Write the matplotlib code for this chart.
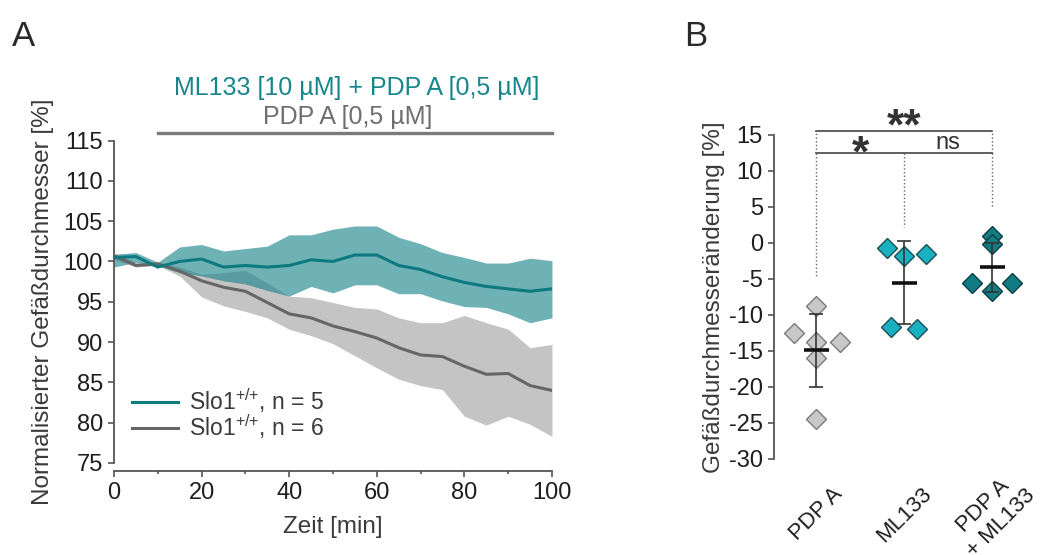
import numpy as np
import matplotlib
matplotlib.use("Agg")
import matplotlib.pyplot as plt

plt.rcParams["font.family"] = ["Liberation Sans", "DejaVu Sans"]
plt.rcParams["mathtext.fontset"] = "custom"
plt.rcParams["mathtext.rm"] = "Liberation Sans"
plt.rcParams["mathtext.it"] = "Liberation Sans"
plt.rcParams["axes.unicode_minus"] = False

# ---- Panel A data (time course, mean and band) ----
zeit = [0, 5, 10, 15, 20, 25, 30, 35, 40, 45, 50, 55, 60, 65, 70, 75, 80, 85, 90, 95, 100]

ml_mean = [100.5, 100.6, 99.3, 100.0, 100.3, 99.3, 99.5, 99.3, 99.5, 100.2, 100.0,
           100.8, 100.8, 99.5, 99.0, 98.1, 97.4, 96.9, 96.6, 96.3, 96.6]
ml_upper = [100.9, 101.1, 99.9, 101.8, 102.1, 101.3, 101.6, 101.9, 103.3, 103.3, 104.0,
            104.4, 104.4, 103.0, 102.2, 101.1, 100.5, 99.8, 99.8, 100.4, 100.1]
ml_lower = [99.3, 99.9, 99.5, 98.6, 98.2, 97.6, 97.2, 96.4, 95.7, 96.9, 96.1,
            97.1, 97.1, 96.0, 96.0, 95.1, 94.4, 94.3, 93.5, 92.4, 93.0]

pdp_mean = [100.7, 99.5, 99.7, 98.8, 97.6, 96.8, 96.3, 94.9, 93.5, 93.0, 92.0,
            91.3, 90.5, 89.3, 88.4, 88.2, 87.0, 86.0, 86.1, 84.6, 84.0]
pdp_upper = [101.0, 99.9, 99.9, 99.3, 98.4, 98.6, 98.9, 97.3, 95.7, 95.5, 94.9,
             94.3, 94.1, 93.0, 92.4, 92.4, 93.3, 92.4, 91.6, 89.3, 89.7]
pdp_lower = [100.3, 99.3, 99.5, 98.2, 95.6, 94.5, 93.8, 93.0, 91.6, 90.8, 89.8,
             88.3, 86.8, 85.4, 84.6, 84.1, 80.8, 79.7, 80.8, 79.8, 78.3]

# ---- Panel B data (single vessels, mean, SD) ----
gruppen = ["PDP A", "ML133", "PDP A\n+ ML133"]
werte_pdp = [-8.8, -12.5, -13.7, -13.7, -16.0, -24.4]
werte_ml = [-0.65, -1.76, -1.57, -11.7, -12.0]
werte_kombi = [1.0, -0.1, -5.5, -5.6, -6.7]
mittel = [-14.9, -5.5, -3.4]
sd = [5.05, 5.8, 3.4]

# horizontal scatter of the diamonds (layout only)
versatz_pdp = [0, -0.25, 0, 0.27, 0, 0]
versatz_ml = [-0.2, 0, 0.25, -0.15, 0.15]
versatz_kombi = [0, 0, -0.23, 0.23, 0]

teal = "#0d7a80"
teal_fill = "#17838a"
grau_line = "#666666"
grau_fill = "#c4c4c4"
achse = "#555555"
tick_col = "#1e1e1e"
label_col = "#3a3a3a"

fig = plt.figure(figsize=(10.45, 5.55), dpi=100)

# ================= Panel A =================
ax = fig.add_axes([0.1091, 0.1658, 0.4191, 0.581])
ax.fill_between(zeit, pdp_lower, pdp_upper, color=grau_fill, lw=0, zorder=1)
ax.fill_between(zeit, ml_lower, ml_upper, color=teal_fill, alpha=0.62, lw=0, zorder=2)
ax.plot(zeit, pdp_mean, color=grau_line, lw=2.2, zorder=3,
        label=r"Slo1$^{\text{+/+}}$, n = 6")
ax.plot(zeit, ml_mean, color=teal, lw=2.2, zorder=4,
        label=r"Slo1$^{\text{+/+}}$, n = 5")

ax.set_xlim(0, 100)
ax.set_ylim(75, 115)
ax.set_xticks(range(0, 101, 20))
ax.set_xticks(range(10, 100, 20), minor=True)
ax.set_yticks(range(75, 116, 5))
for s in ["top", "right"]:
    ax.spines[s].set_visible(False)
for s in ["left", "bottom"]:
    ax.spines[s].set_color(achse)
    ax.spines[s].set_linewidth(1.3)
ax.spines["bottom"].set_position(("outward", 6))
ax.tick_params(axis="both", colors=achse, labelcolor=tick_col, labelsize=17,
               width=1.2, length=4.5)
ax.tick_params(axis="x", which="minor", colors=achse, width=1.2, length=2.5)
ax.set_xlabel("Zeit [min]", fontsize=17.5, color=label_col, labelpad=8)
ax.set_ylabel("Normalisierter Gefäßdurchmesser [%]", fontsize=17.5,
              color=label_col, labelpad=7)

h, l = ax.get_legend_handles_labels()
ax.legend(h[::-1], l[::-1], loc="lower left", bbox_to_anchor=(0.02, 0.04),
          frameon=False, fontsize=16.5, handlelength=2.0, handletextpad=0.5,
          labelspacing=-0.12, borderaxespad=0.0, labelcolor=label_col)

# treatment bar above panel A
ax.plot([10, 100], [115.9, 115.9], color="#7a7a7a", lw=2.4, clip_on=False)
ax.text(53.4, 117.9, "PDP A [0,5 µM]", color="#6e6e6e", fontsize=18,
        ha="center", va="center")
ax.text(55.5, 121.5, "ML133 [10 µM] + PDP A [0,5 µM]", color="#15868c",
        fontsize=18, ha="center", va="center")

fig.text(0.011, 0.935, "A", fontsize=25, color="#2a2a2a", ha="left", va="center")
fig.text(0.655, 0.935, "B", fontsize=25, color="#2a2a2a", ha="left", va="center")

# ================= Panel B =================
bx = fig.add_axes([0.7407, 0.1730, 0.2509, 0.5838])
gruppen_werte = [werte_pdp, werte_ml, werte_kombi]
gruppen_versatz = [versatz_pdp, versatz_ml, versatz_kombi]
faces = ["#c8c8c8", "#1ab0c0", "#137b83"]
edges = ["#7a7a7a", "#1c4f55", "#0a3f44"]
for i, (w, v) in enumerate(zip(gruppen_werte, gruppen_versatz)):
    bx.plot(np.array(v) + i, w, ls="none", marker="D", ms=10.5,
            mfc=faces[i], mec=edges[i], mew=1.0, zorder=3)

pos = np.arange(len(gruppen))
bx.errorbar(pos, mittel, yerr=sd, fmt="none", ecolor="#333333", elinewidth=1.2,
            capsize=5, capthick=1.2, zorder=4)
bx.errorbar(pos, mittel, xerr=0.14, fmt="none", ecolor="#111111", elinewidth=2.6,
            capsize=0, zorder=5)

bx.set_xlim(-0.48, 2.5)
bx.set_ylim(-30, 15)
bx.set_yticks(range(-30, 16, 5))
bx.set_xticks(pos)
bx.set_xticklabels(gruppen, rotation=45, ha="center", va="center",
                   multialignment="center")
for s in ["top", "right", "bottom"]:
    bx.spines[s].set_visible(False)
bx.spines["left"].set_color(achse)
bx.spines["left"].set_linewidth(1.3)
bx.tick_params(axis="y", colors=achse, labelcolor=tick_col, labelsize=17,
               width=1.2, length=4.5)
bx.tick_params(axis="x", length=0, labelsize=16, labelcolor=tick_col, pad=40)
bx.set_ylabel("Gefäßdurchmesseränderung [%]", fontsize=17.5, color=label_col,
              labelpad=3)

# significance brackets
sig_oben = 15.55
sig_unten = 12.5
punkt_ende = [-4.9, 2.2, 5.0]
kw = dict(color="#444444", lw=1.2, clip_on=False)
bx.plot([0, 2], [sig_oben, sig_oben], **kw)
bx.plot([0, 2], [sig_unten, sig_unten], **kw)
for x0 in [0, 2]:
    bx.plot([x0, x0], [sig_unten, sig_oben], color="#666666", lw=1.0, ls=":",
            clip_on=False)
for x0, y1 in zip(pos, punkt_ende):
    bx.plot([x0, x0], [sig_unten, y1], color="#666666", lw=1.0, ls=":",
            clip_on=False)
bx.text(1.0, 16.0, "**", fontsize=32, color="#333333", ha="center", va="center",
        fontweight="bold")
bx.text(0.5, 12.3, "*", fontsize=32, color="#333333", ha="center", va="center",
        fontweight="bold")
bx.text(1.5, 13.9, "ns", fontsize=17, color="#333333", ha="center", va="center")

fig.savefig("out.png", dpi=100)
